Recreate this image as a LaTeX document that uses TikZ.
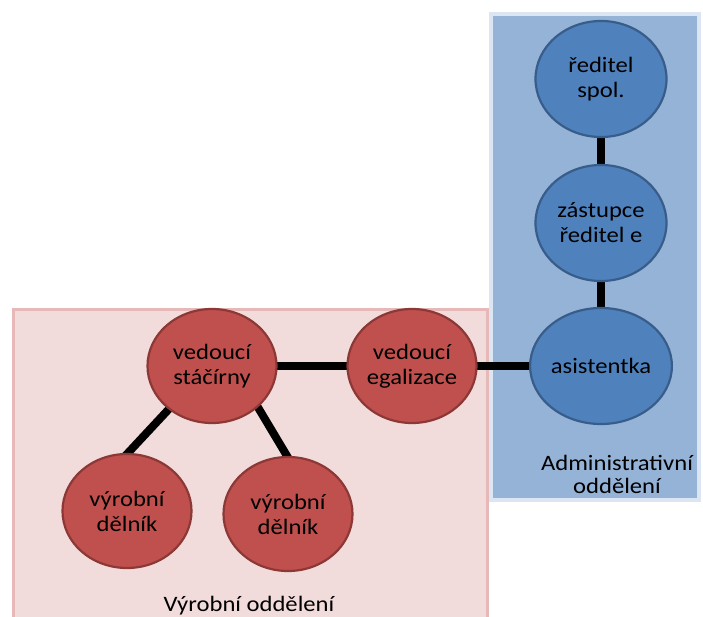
\documentclass[tikz,border=0pt]{standalone}
\usepackage{fontspec}
\setmainfont{Carlito}[FakeStretch=1.12]
\usetikzlibrary{shapes.geometric}
\pgfdeclarelayer{bg}
\pgfdeclarelayer{mid}
\pgfsetlayers{bg,mid,main}
\definecolor{redfill}{HTML}{C0504D}
\definecolor{redline}{HTML}{8C3836}
\definecolor{bluefill}{HTML}{4F81BD}
\definecolor{blueline}{HTML}{385D8A}
\definecolor{pinkbox}{HTML}{F2DCDB}
\definecolor{pinkline}{HTML}{E6B9B8}
\definecolor{bluebox}{HTML}{95B3D7}
\definecolor{bluebline}{HTML}{DCE6F2}
\tikzset{
  person/.style={ellipse, minimum width=129pt, minimum height=114pt, inner sep=0pt,
    align=center, font=\fontsize{22}{25}\selectfont, line width=2.2pt},
  redp/.style={person, fill=redfill, draw=redline},
  bluep/.style={person, fill=bluefill, draw=blueline, minimum width=131pt, minimum height=116pt},
  link/.style={line width=8pt, black, shorten <=-4pt, shorten >=-4pt},
  grouplabel/.style={align=center, font=\fontsize{22}{23}\selectfont, inner sep=0pt}
}
\begin{document}
\begin{tikzpicture}[x=1pt,y=-1pt]
\useasboundingbox (0,0) rectangle (703,617);
\clip (0,0) rectangle (703,617);
% nodes
\node[redp] (stac) at (212,366) {vedoucí\\stáčírny};
\node[redp] (egal) at (412,366) {vedoucí\\egalizace};
\node[redp] (d1) at (127,511) {výrobní\\dělník};
\node[redp] (d2) at (288,514) {výrobní\\dělník};
\node[bluep] (red) at (601,79) {ředitel\\spol.};
\node[bluep] (zast) at (601,223) {zástupce\\ředitel e};
\node[bluep] (asis) at (601,366) {asistentka};
\node[grouplabel] (admlabel) at (617,474) {Administrativní\\oddělení};
\node[grouplabel] (vyrlabel) at (249,606) {Výrobní oddělení};
% group boxes
\begin{pgfonlayer}{bg}
\draw[fill=pinkbox, draw=pinkline, line width=3pt] (13,309) rectangle (487,640);
\draw[fill=bluebox, draw=bluebline, line width=4pt] (491,14) rectangle (699,500);
\end{pgfonlayer}
% connectors
\begin{pgfonlayer}{mid}
\draw[link] (stac.east) -- (egal.west);
\draw[link] (egal.east) -- (asis.west);
\draw[link] (red.south) -- (zast.north);
\draw[link] (zast.south) -- (asis.north);
\draw[link] (stac.225) -- (d1.89);
\draw[link] (stac.318) -- (d2.91);
\end{pgfonlayer}
\end{tikzpicture}
\end{document}
